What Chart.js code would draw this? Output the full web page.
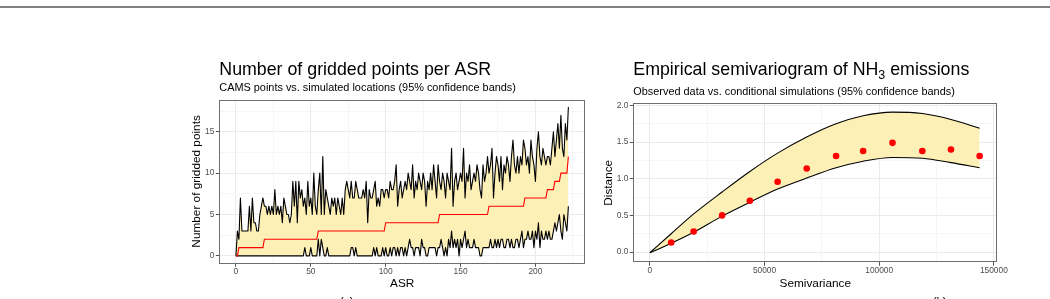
<!DOCTYPE html>
<html>
<head>
<meta charset="utf-8">
<script src="https://cdn.jsdelivr.net/npm/chart.js@4.4.1/dist/chart.umd.min.js"></script>
<style>
  html, body { margin: 0; padding: 0; background: #fff; width: 1050px; height: 299px; overflow: hidden; }
  #rule { position: absolute; left: 0; top: 6px; width: 1050px; height: 2px; background: #808080; }
  .box { position: absolute; top: 0; height: 299px; }
  #boxA { left: 180px; width: 410px; }
  #boxB { left: 590px; width: 460px; }
  .cap { position: absolute; top: 295.7px; font: 11px "Liberation Sans", Arial, sans-serif; line-height: 11px; color: #000; }
</style>
</head>
<body>
<div id="rule"></div>
<div class="box" id="boxA"><canvas id="gridded" width="410" height="299"></canvas></div>
<div class="box" id="boxB"><canvas id="vario" width="460" height="299"></canvas></div>
<div class="cap" style="left:340px">(a)</div>
<div class="cap" style="left:933px">(b)</div>
<script>
// ---- left panel: gridded points per ASR (ASR index 0..222) ----
const upperBand = [
  0,3,2,7,3,3,3,3,3,6, 3,7,4,4,3,3,5,6,7,6, 6,5,6,5,6,5,8,5,6,5, 6,4,7,6,5,5,4,5,9,6,
  9,4,9,7,8,6,7,5,9,6, 7,5,10,6,5,8,10,5,12,5, 8,7,6,5,7,6,7,5,7,6, 5,7,5,8,9,8,7,9,7,7,
  9,8,7,7,7,8,7,9,4,8, 7,7,8,9,6,7,6,8,8,7, 8,8,7,9,8,8,9,11,6,8, 9,7,8,9,8,10,9,8,11,7,
  9,8,10,9,8,10,9,6,9,8, 10,8,11,9,7,11,9,8,10,9, 7,10,9,8,13,6,9,10,8,9, 10,9,13,7,10,9,11,8,9,10,
  9,11,10,8,7,11,9,10,12,10, 11,13,7,10,12,11,9,12,8,11, 10,12,11,9,12,14,11,10,12,10, 12,11,14,13,11,12,10,14,12,11,
  9,13,15,12,11,13,12,11,12,12, 11,13,15,12,14,16,13,17,13,12, 16,14,18
];
const lowerBand = [
  0,0,0,0,0,0,0,0,0,0, 0,0,0,0,0,0,0,0,0,0, 0,0,0,0,0,0,0,0,0,0, 0,0,0,0,0,0,0,0,0,0,
  0,0,0,0,0,0,1,0,0,0, 1,0,0,0,0,2,0,2,1,0, 0,1,0,0,0,0,0,0,0,0, 0,0,0,0,0,0,0,1,1,0,
  1,0,0,0,0,0,0,0,0,0, 0,0,1,0,1,0,0,0,1,0, 1,0,0,1,0,1,1,0,1,0, 1,1,0,1,0,1,2,1,1,0,
  1,1,1,0,2,1,1,0,0,1, 1,1,1,1,0,1,1,2,1,0, 1,0,2,1,3,1,2,1,2,0, 2,1,2,3,1,2,1,1,1,2,
  1,1,1,0,0,1,1,1,1,1, 2,1,1,2,1,2,1,2,2,1, 1,2,2,1,2,1,1,2,2,1, 2,3,1,2,2,3,2,2,3,1,
  3,2,4,1,3,2,2,3,2,3, 2,2,3,4,3,4,5,3,2,5, 4,3,6
];
const camsPoints = [
  0,0,1,1,1,1,1,1,1,1, 1,1,1,1,1,1,1,1,1,2, 2,2,2,2,2,2,2,2,2,2, 2,2,2,2,2,2,2,2,2,2,
  2,2,2,2,2,2,2,2,2,2, 2,2,2,2,2,3,3,3,3,3, 3,3,3,3,3,3,3,3,3,3, 3,3,3,3,3,3,3,3,3,3,
  3,3,3,3,3,3,3,3,3,3, 3,3,3,3,3,3,3,3,3,3, 4,4,4,4,4,4,4,4,4,4, 4,4,4,4,4,4,4,4,4,4,
  4,4,4,4,4,4,4,4,4,4, 4,4,4,4,4,4,5,5,5,5, 5,5,5,5,5,5,5,5,5,5, 5,5,5,5,5,5,5,5,5,5,
  5,5,5,5,5,5,5,5,5,6, 6,6,6,6,6,6,6,6,6,6, 6,6,6,6,6,6,6,6,6,6, 6,6,6,7,7,7,7,7,7,7,
  7,7,7,7,7,7,7,7,8,8, 8,8,8,9,9,9,9,10,10,10, 10,10,12
];
const asrTicks = [0, 25, 50, 75, 100, 125, 150, 175, 200, 225];
const countTicks = [0, 2.5, 5, 7.5, 10, 12.5, 15, 17.5];

// ---- right panel: empirical semivariogram ----
const lagDist = [9300, 19100, 31500, 43600, 55700, 68400, 81200, 93000, 105800, 118800, 131300, 143800];
const gammaObs = [0.13, 0.28, 0.50, 0.70, 0.96, 1.14, 1.31, 1.38, 1.49, 1.38, 1.40, 1.31];
const curveLag = [0, 9300, 19100, 31500, 43600, 55700, 68400, 81200, 93000, 105800, 118800, 131300, 143800];
const simLow = [-0.01, 0.12, 0.27, 0.49, 0.68, 0.86, 1.01, 1.15, 1.24, 1.29, 1.28, 1.22, 1.15];
const simHigh = [-0.01, 0.25, 0.52, 0.82, 1.10, 1.35, 1.57, 1.75, 1.86, 1.91, 1.89, 1.81, 1.69];
const lagTicks = [0, 25000, 50000, 75000, 100000, 125000, 150000];
const gammaTicks = [0, 0.25, 0.5, 0.75, 1, 1.25, 1.5, 1.75, 2];

const FONT = '"Liberation Sans", Arial, Helvetica, sans-serif';
const BAND = '#FDF0B6';
const GRID_MAJOR = '#EBEBEB';
const GRID_MINOR = '#F4F4F4';
const TICK_TXT = '#4D4D4D';
const FRAME = '#6E6E6E';

Chart.defaults.font.family = FONT;
Chart.defaults.animation = false;

const asr = upperBand.map((_, i) => i);
const xy = (xs, ys) => ys.map((y, i) => ({ x: xs[i], y: y }));

// ggplot-ish axis: major + minor grid, ticks only on majors
function axis(min, max, tickList, isMajor, fmt, size, horiz) {
  return {
    type: 'linear', min: min, max: max,
    afterBuildTicks: s => { s.ticks = tickList.map(v => ({ value: v })); },
    afterFit: s => { if (horiz) s.height = size; else s.width = size; },
    ticks: {
      autoSkip: false, maxRotation: 0, padding: horiz ? 0 : 1.5,
      color: TICK_TXT, font: { size: 8.4 },
      callback: v => isMajor(v) ? fmt(v) : ''
    },
    grid: {
      color: c => (c.tick && isMajor(c.tick.value)) ? GRID_MAJOR : GRID_MINOR,
      lineWidth: c => (c.tick && isMajor(c.tick.value)) ? 1 : 0.8,
      tickLength: 3.5,
      tickColor: c => (c.tick && isMajor(c.tick.value)) ? '#555' : 'rgba(0,0,0,0)',
      tickWidth: 1
    },
    border: { display: false }
  };
}

// titles, axis titles and the panel frame, drawn like ggplot does
function decor(t) {
  return {
    id: 'decor',
    afterDraw(chart) {
      const ctx = chart.ctx, a = chart.chartArea;
      ctx.save();
      ctx.strokeStyle = FRAME;
      ctx.lineWidth = 1;
      ctx.strokeRect(Math.round(a.left) + 0.5, Math.round(a.top) + 0.5,
                     Math.round(a.right - a.left) - 1, Math.round(a.bottom - a.top) - 1);
      ctx.fillStyle = '#000';
      ctx.textBaseline = 'alphabetic';
      ctx.textAlign = 'left';
      ctx.font = '17.8px ' + FONT;
      let x = a.left;
      t.title.forEach(part => {
        if (part.sub) {
          ctx.font = '12.5px ' + FONT;
          ctx.fillText(part.text, x, 79);
          x += ctx.measureText(part.text).width;
          ctx.font = '17.8px ' + FONT;
        } else {
          ctx.fillText(part.text, x, 75);
          x += ctx.measureText(part.text).width;
        }
      });
      ctx.font = '10.9px ' + FONT;
      ctx.fillText(t.subtitle, a.left, t.subY);
      ctx.font = '11.8px ' + FONT;
      ctx.textAlign = 'center';
      ctx.fillText(t.xTitle, t.xTitleX, 286.5);
      ctx.translate(t.yTitleX, (a.top + a.bottom) / 2);
      ctx.rotate(-Math.PI / 2);
      ctx.fillText(t.yTitle, 0, 0);
      ctx.restore();
    }
  };
}

new Chart(document.getElementById('gridded'), {
  type: 'line',
  data: {
    datasets: [
      { label: 'CAMS', data: xy(asr, camsPoints), borderColor: '#FF0000', borderWidth: 1.1,
        pointRadius: 0, tension: 0, fill: false },
      { label: 'lower', data: xy(asr, lowerBand), borderColor: '#000', borderWidth: 1.1,
        borderJoinStyle: 'round', pointRadius: 0, tension: 0, fill: false },
      { label: 'upper', data: xy(asr, upperBand), borderColor: '#000', borderWidth: 1.1,
        borderJoinStyle: 'round', pointRadius: 0, tension: 0, fill: 1, backgroundColor: BAND }
    ]
  },
  options: {
    responsive: false,
    layout: { padding: { top: 99.5, right: 5, left: 0, bottom: 0 } },
    scales: {
      x: axis(-11.1, 233.1, asrTicks, v => v % 50 === 0, v => String(v), 35.7, true),
      y: axis(-0.9, 18.9, countTicks, v => v % 5 === 0, v => String(v), 39.3, false)
    },
    plugins: { legend: { display: false }, tooltip: { enabled: false }, filler: { drawTime: 'beforeDatasetsDraw' } }
  },
  plugins: [decor({
    title: [{ text: 'Number of gridded points per ASR' }],
    subtitle: 'CAMS points vs. simulated locations (95% confidence bands)', subY: 91,
    xTitle: 'ASR', xTitleX: 222.2,
    yTitle: 'Number of gridded points', yTitleX: 20
  })]
});

new Chart(document.getElementById('vario'), {
  type: 'line',
  data: {
    datasets: [
      { label: 'observed', data: xy(lagDist, gammaObs), showLine: false, pointRadius: 3.3,
        pointBackgroundColor: '#FF0000', pointBorderWidth: 0, borderColor: '#FF0000' },
      { label: 'sim low', data: xy(curveLag, simLow), borderColor: '#000', borderWidth: 1.1,
        pointRadius: 0, cubicInterpolationMode: 'monotone', fill: false },
      { label: 'sim high', data: xy(curveLag, simHigh), borderColor: '#000', borderWidth: 1.1,
        pointRadius: 0, cubicInterpolationMode: 'monotone', fill: 1, backgroundColor: BAND }
    ]
  },
  options: {
    responsive: false,
    layout: { padding: { top: 103.3, right: 52.7, left: 0, bottom: 0 } },
    scales: {
      x: axis(-7225, 151500, lagTicks, v => v % 50000 === 0, v => String(v), 36.7, true),
      y: axis(-0.14, 2.03, gammaTicks, v => Math.abs(v * 2 - Math.round(v * 2)) < 1e-9, v => v.toFixed(1), 43.3, false)
    },
    plugins: { legend: { display: false }, tooltip: { enabled: false }, filler: { drawTime: 'beforeDatasetsDraw' } }
  },
  plugins: [decor({
    title: [{ text: 'Empirical semivariogram of NH' }, { text: '3', sub: true }, { text: ' emissions' }],
    subtitle: 'Observed data vs. conditional simulations (95% confidence bands)', subY: 95,
    xTitle: 'Semivariance', xTitleX: 225.3,
    yTitle: 'Distance', yTitleX: 21.7
  })]
});
</script>
</body>
</html>
